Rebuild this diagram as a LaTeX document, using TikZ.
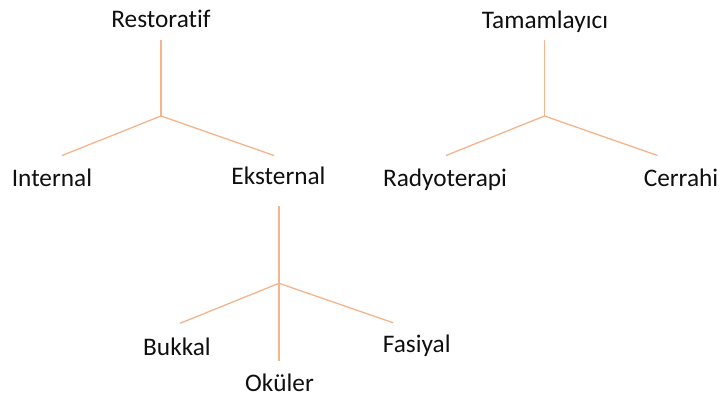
\documentclass[tikz,border=0pt]{standalone}
\usepackage{fontspec}
\setmainfont[Ligatures=NoCommon]{Carlito}
\definecolor{branch}{RGB}{244,180,140}
\definecolor{ink}{RGB}{15,15,15}
\begin{document}
\begin{tikzpicture}[x=1pt,y=-1pt,
  lbl/.style={anchor=base,inner sep=0pt,text=ink,font=\fontsize{25.3}{28}\selectfont},
  twig/.style={draw=branch,line width=1.3pt}]
\useasboundingbox (0,0) rectangle (720,399);

% labels
\node[lbl] (rest) at (161,27.3) {Restoratif};
\node[lbl] (int)  at (52,186.5) {Internal};
\node[lbl] (eks)  at (278.5,184.5) {Eksternal};
\node[lbl] (tam)  at (545,28.3) {Tamamlayıcı};
\node[lbl] (rad)  at (445,186.5) {Radyoterapi};
\node[lbl] (cer)  at (681,186) {Cerrahi};
\node[lbl] (buk)  at (177,355) {Bukkal};
\node[lbl] (fas)  at (416.7,352) {Fasiyal};
\node[lbl] (oku)  at (279.5,391.7) {Oküler};

% branch points
\coordinate (restTop) at (161,40);
\coordinate (restJ)   at (161,116);
\coordinate (intEnd)  at (62,155.5);
\coordinate (eksEnd)  at (274,155.5);

\coordinate (tamTop)  at (544.5,40);
\coordinate (tamJ)    at (544.5,116);
\coordinate (radEnd)  at (446,155.5);
\coordinate (cerEnd)  at (657.5,155.5);

\coordinate (eksTop)  at (279,206);
\coordinate (eksJ)    at (279,283.3);
\coordinate (bukEnd)  at (180,323.3);
\coordinate (fasEnd)  at (393.3,322.8);
\coordinate (okuEnd)  at (279,360.5);

% branches
\draw[twig] (restTop) -- (restJ);
\draw[twig] (restJ) -- (intEnd);
\draw[twig] (restJ) -- (eksEnd);

\draw[twig] (tamTop) -- (tamJ);
\draw[twig] (tamJ) -- (radEnd);
\draw[twig] (tamJ) -- (cerEnd);

\draw[twig] (eksTop) -- (eksJ);
\draw[twig] (eksJ) -- (bukEnd);
\draw[twig] (eksJ) -- (fasEnd);
\draw[twig] (eksJ) -- (okuEnd);
\end{tikzpicture}
\end{document}
